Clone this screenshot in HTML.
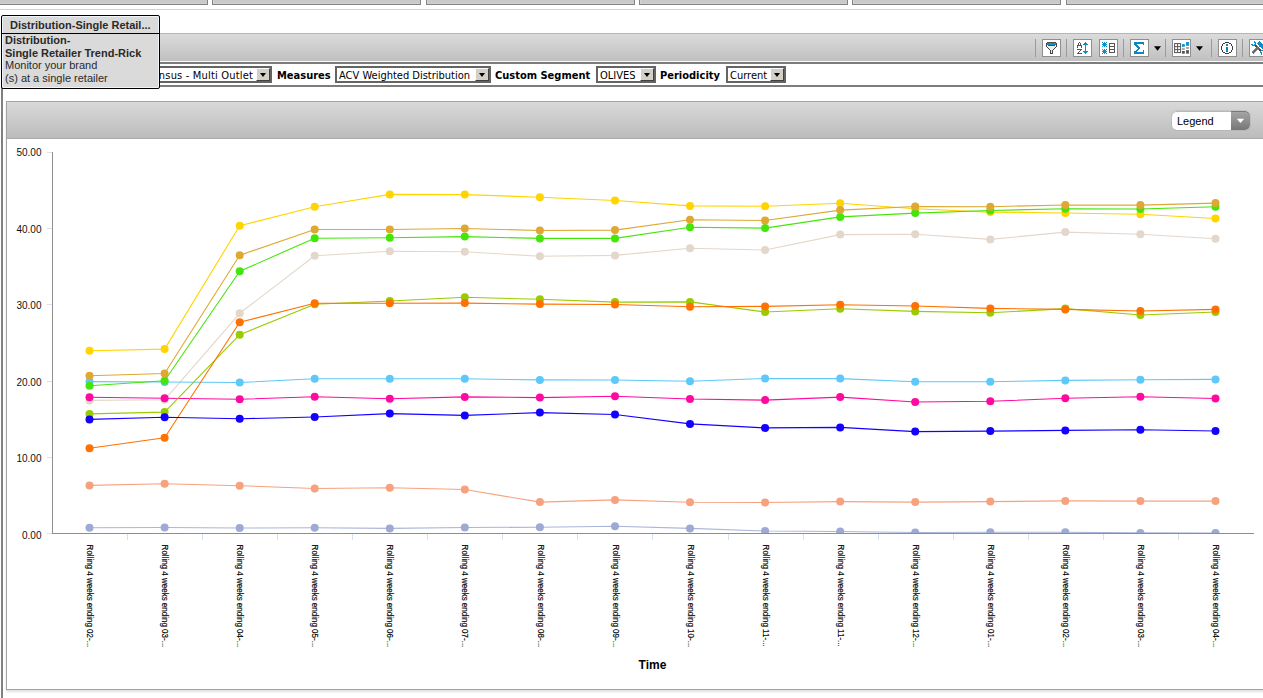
<!DOCTYPE html>
<html><head><meta charset="utf-8"><title>Distribution-Single Retailer Trend</title>
<style>
*{box-sizing:border-box}
html,body{margin:0;padding:0}
body{width:1263px;height:698px;overflow:hidden;background:#fff;position:relative;font-family:"Liberation Sans",Arial,sans-serif;color:#000}
.abs{position:absolute}
.tab{position:absolute;top:-6px;height:11px;border:1px solid #838383;background:#c9c9c9;box-shadow:inset 1px 0 0 #d4d4d4,inset 0 -1px 0 #d0d0d0}
.hline{position:absolute;left:0;top:9px;width:1263px;height:1px;background:#d2d2d2}
.frame{position:absolute;left:1px;top:33px;width:2px;height:680px;background:#808080}
.toolbar{position:absolute;left:3px;top:33px;width:1270px;height:28px;border-top:1px solid #b5b5b5;background:linear-gradient(#dbdbdb,#c0c0c0)}
.tb-white{position:absolute;left:3px;top:61px;width:1270px;height:1px;background:#fafafa}
.filter{position:absolute;left:3px;top:62px;width:1270px;height:25px;border-top:2px solid #7c7c7c;border-bottom:2px solid #7c7c7c;background:#fff;font-family:"DejaVu Sans Condensed","DejaVu Sans",sans-serif;font-size:11px}
.sep{position:absolute;top:39px;width:1px;height:18px;background:#9a9a9a}
.btn{position:absolute;top:39px;width:19px;height:18px;border:1px solid #8f8f8f;background:#fff}
.btn svg{position:absolute;left:-1px;top:-1px}
.dd{position:absolute;top:46px}
.sel{position:absolute;top:66px;height:17px;border:2px solid #646464;background:#fff;font-family:"DejaVu Sans Condensed","DejaVu Sans",sans-serif;font-size:11px;line-height:13px;color:#000;white-space:nowrap;overflow:hidden}
.sel .t{position:absolute;left:2px;top:1px}
.sel .b{position:absolute;right:0;top:0;width:14px;height:13px;background:#d4d0c8;border:1px solid;border-color:#fafafa #404040 #404040 #fafafa}
.sel .b:after{content:"";position:absolute;left:2.5px;top:4px;border-left:3.5px solid transparent;border-right:3.5px solid transparent;border-top:4px solid #000}
.lbl{position:absolute;top:69px;font-family:"DejaVu Sans Condensed","DejaVu Sans",sans-serif;font-size:11px;font-weight:bold;line-height:13px;color:#000;white-space:nowrap}
.panel{position:absolute;left:6px;top:101px;width:1270px;height:589px;border:1px solid #a3a3a3;background:#fff;box-shadow:0 2px 2px rgba(0,0,0,0.12)}
.phead{position:absolute;left:7px;top:102px;width:1270px;height:37px;background:linear-gradient(#d9d9d9,#bcbcbc);border-bottom:1px solid #a9a9a9}
.legend{position:absolute;left:1172px;top:111px;width:78px;height:19px;border-radius:5px;background:#fff;overflow:hidden;box-shadow:0 0 0 1px rgba(0,0,0,0.06)}
.legend .t{position:absolute;left:5px;top:3.5px;font-size:11px;line-height:13px;color:#000}
.legend .b{position:absolute;right:0;top:0;width:19px;height:19px;background:linear-gradient(#a8a8a8,#767676)}
.legend:after{content:"";position:absolute;left:0;top:0;right:0;bottom:0;border-radius:5px;box-shadow:inset 0 1px 0 rgba(0,0,0,0.28)}
.tip{position:absolute;left:1px;top:15px;width:159px;height:74px;border:1px solid #000;border-radius:2px;background:#dadada;color:#2a2a2a;font-size:11px;line-height:13px;box-shadow:inset 0 0 0 1px #eef4f8}
.tip .h{position:absolute;left:0;top:0;width:157px;height:18px;border-bottom:1px solid #000;font-weight:bold;text-align:left;padding-left:8px;line-height:18px;padding-top:0}
.tip .c{position:absolute;left:3px;top:18px;white-space:nowrap;line-height:12.65px}
.chart{position:absolute;left:0;top:0}
.yl{font-family:"Liberation Sans",Arial,sans-serif;font-size:10px;fill:#111}
.xl{font-family:"Liberation Sans",Arial,sans-serif;font-size:8.5px;fill:#000;stroke:#000;stroke-width:0.15px}
.xt{font-family:"Liberation Sans",Arial,sans-serif;font-size:12px;font-weight:bold;fill:#000}
</style></head>
<body>
<div class="tab" style="left:-10px;width:218px"></div>
<div class="tab" style="left:212px;width:209px"></div>
<div class="tab" style="left:426px;width:209px"></div>
<div class="tab" style="left:639px;width:209px"></div>
<div class="tab" style="left:852px;width:209px"></div>
<div class="tab" style="left:1066px;width:209px"></div>
<div class="hline"></div>

<div class="toolbar"></div>
<div class="tb-white"></div>
<div class="filter"></div>
<div class="frame"></div>

<!-- toolbar buttons -->
<div class="sep" style="left:1035px"></div>
<div class="btn" style="left:1042px"><svg width="19" height="18" viewBox="0 0 19 18" shape-rendering="crispEdges"><g fill="#eeeeee"><rect x="5" y="6" width="1" height="1"/><rect x="13" y="6" width="1" height="1"/><rect x="5" y="7" width="1" height="1"/><rect x="6" y="7" width="1" height="1"/><rect x="7" y="7" width="1" height="1"/><rect x="8" y="7" width="1" height="1"/><rect x="9" y="7" width="1" height="1"/><rect x="10" y="7" width="1" height="1"/><rect x="11" y="7" width="1" height="1"/><rect x="12" y="7" width="1" height="1"/><rect x="13" y="7" width="1" height="1"/><rect x="6" y="8" width="1" height="1"/><rect x="7" y="8" width="1" height="1"/><rect x="8" y="8" width="1" height="1"/><rect x="9" y="8" width="1" height="1"/><rect x="10" y="8" width="1" height="1"/><rect x="11" y="8" width="1" height="1"/><rect x="12" y="8" width="1" height="1"/><rect x="7" y="9" width="1" height="1"/><rect x="8" y="9" width="1" height="1"/><rect x="9" y="9" width="1" height="1"/><rect x="10" y="9" width="1" height="1"/><rect x="11" y="9" width="1" height="1"/><rect x="8" y="10" width="1" height="1"/><rect x="9" y="10" width="1" height="1"/><rect x="10" y="10" width="1" height="1"/><rect x="9" y="11" width="1" height="1"/><rect x="9" y="12" width="1" height="1"/><rect x="9" y="13" width="1" height="1"/></g><g fill="#0894c6"><rect x="5" y="4" width="1" height="1"/><rect x="6" y="4" width="1" height="1"/><rect x="7" y="4" width="1" height="1"/><rect x="8" y="4" width="1" height="1"/><rect x="9" y="4" width="1" height="1"/><rect x="10" y="4" width="1" height="1"/><rect x="11" y="4" width="1" height="1"/><rect x="12" y="4" width="1" height="1"/><rect x="13" y="4" width="1" height="1"/><rect x="5" y="5" width="1" height="1"/><rect x="6" y="5" width="1" height="1"/><rect x="7" y="5" width="1" height="1"/><rect x="8" y="5" width="1" height="1"/><rect x="9" y="5" width="1" height="1"/><rect x="10" y="5" width="1" height="1"/><rect x="11" y="5" width="1" height="1"/><rect x="12" y="5" width="1" height="1"/><rect x="13" y="5" width="1" height="1"/></g><g fill="#5a4c46"><rect x="5" y="3" width="1" height="1"/><rect x="6" y="3" width="1" height="1"/><rect x="7" y="3" width="1" height="1"/><rect x="8" y="3" width="1" height="1"/><rect x="9" y="3" width="1" height="1"/><rect x="10" y="3" width="1" height="1"/><rect x="11" y="3" width="1" height="1"/><rect x="12" y="3" width="1" height="1"/><rect x="13" y="3" width="1" height="1"/><rect x="6" y="6" width="1" height="1"/><rect x="7" y="6" width="1" height="1"/><rect x="8" y="6" width="1" height="1"/><rect x="9" y="6" width="1" height="1"/><rect x="10" y="6" width="1" height="1"/><rect x="11" y="6" width="1" height="1"/><rect x="12" y="6" width="1" height="1"/></g><g fill="#454545"><rect x="4" y="4" width="1" height="1"/><rect x="4" y="5" width="1" height="1"/><rect x="4" y="6" width="1" height="1"/><rect x="4" y="7" width="1" height="1"/><rect x="14" y="4" width="1" height="1"/><rect x="14" y="5" width="1" height="1"/><rect x="14" y="6" width="1" height="1"/><rect x="14" y="7" width="1" height="1"/><rect x="5" y="8" width="1" height="1"/><rect x="13" y="8" width="1" height="1"/><rect x="6" y="9" width="1" height="1"/><rect x="12" y="9" width="1" height="1"/><rect x="7" y="10" width="1" height="1"/><rect x="11" y="10" width="1" height="1"/><rect x="8" y="11" width="1" height="1"/><rect x="8" y="12" width="1" height="1"/><rect x="8" y="13" width="1" height="1"/><rect x="10" y="11" width="1" height="1"/><rect x="10" y="12" width="1" height="1"/><rect x="10" y="13" width="1" height="1"/><rect x="8" y="14" width="1" height="1"/><rect x="9" y="14" width="1" height="1"/><rect x="10" y="14" width="1" height="1"/></g></svg></div>
<div class="sep" style="left:1066px"></div>
<div class="btn" style="left:1073px"><svg width="19" height="18" viewBox="0 0 19 18" shape-rendering="crispEdges"><g fill="#555"><rect x="6" y="3" width="1" height="1"/><rect x="5" y="4" width="1" height="1"/><rect x="7" y="4" width="1" height="1"/><rect x="5" y="5" width="1" height="1"/><rect x="7" y="5" width="1" height="1"/><rect x="4" y="6" width="1" height="1"/><rect x="5" y="6" width="1" height="1"/><rect x="6" y="6" width="1" height="1"/><rect x="7" y="6" width="1" height="1"/><rect x="8" y="6" width="1" height="1"/><rect x="4" y="7" width="1" height="1"/><rect x="8" y="7" width="1" height="1"/><rect x="4" y="8" width="1" height="1"/><rect x="8" y="8" width="1" height="1"/><rect x="4" y="10" width="1" height="1"/><rect x="5" y="10" width="1" height="1"/><rect x="6" y="10" width="1" height="1"/><rect x="7" y="10" width="1" height="1"/><rect x="8" y="10" width="1" height="1"/><rect x="7" y="11" width="1" height="1"/><rect x="6" y="12" width="1" height="1"/><rect x="5" y="13" width="1" height="1"/><rect x="4" y="14" width="1" height="1"/><rect x="5" y="14" width="1" height="1"/><rect x="6" y="14" width="1" height="1"/><rect x="7" y="14" width="1" height="1"/><rect x="8" y="14" width="1" height="1"/></g><g fill="#0a8fc8"><rect x="12" y="3" width="1" height="1"/><rect x="11" y="4" width="1" height="1"/><rect x="12" y="4" width="1" height="1"/><rect x="13" y="4" width="1" height="1"/><rect x="10" y="5" width="1" height="1"/><rect x="11" y="5" width="1" height="1"/><rect x="12" y="5" width="1" height="1"/><rect x="13" y="5" width="1" height="1"/><rect x="14" y="5" width="1" height="1"/><rect x="12" y="6" width="1" height="1"/><rect x="12" y="7" width="1" height="1"/><rect x="12" y="8" width="1" height="1"/><rect x="12" y="9" width="1" height="1"/><rect x="12" y="10" width="1" height="1"/><rect x="12" y="11" width="1" height="1"/><rect x="10" y="12" width="1" height="1"/><rect x="11" y="12" width="1" height="1"/><rect x="12" y="12" width="1" height="1"/><rect x="13" y="12" width="1" height="1"/><rect x="14" y="12" width="1" height="1"/><rect x="11" y="13" width="1" height="1"/><rect x="12" y="13" width="1" height="1"/><rect x="13" y="13" width="1" height="1"/><rect x="12" y="14" width="1" height="1"/></g></svg></div>
<div class="btn" style="left:1099px"><svg width="19" height="18" viewBox="0 0 19 18" shape-rendering="crispEdges"><g fill="#0a8fc8"><rect x="3" y="3" width="1" height="1"/><rect x="5" y="3" width="1" height="1"/><rect x="7" y="3" width="1" height="1"/><rect x="4" y="4" width="1" height="1"/><rect x="5" y="4" width="1" height="1"/><rect x="6" y="4" width="1" height="1"/><rect x="3" y="5" width="1" height="1"/><rect x="4" y="5" width="1" height="1"/><rect x="5" y="5" width="1" height="1"/><rect x="6" y="5" width="1" height="1"/><rect x="7" y="5" width="1" height="1"/><rect x="4" y="6" width="1" height="1"/><rect x="5" y="6" width="1" height="1"/><rect x="6" y="6" width="1" height="1"/><rect x="3" y="7" width="1" height="1"/><rect x="5" y="7" width="1" height="1"/><rect x="7" y="7" width="1" height="1"/><rect x="3" y="10" width="1" height="1"/><rect x="5" y="10" width="1" height="1"/><rect x="7" y="10" width="1" height="1"/><rect x="4" y="11" width="1" height="1"/><rect x="5" y="11" width="1" height="1"/><rect x="6" y="11" width="1" height="1"/><rect x="3" y="12" width="1" height="1"/><rect x="4" y="12" width="1" height="1"/><rect x="5" y="12" width="1" height="1"/><rect x="6" y="12" width="1" height="1"/><rect x="7" y="12" width="1" height="1"/><rect x="4" y="13" width="1" height="1"/><rect x="5" y="13" width="1" height="1"/><rect x="6" y="13" width="1" height="1"/><rect x="3" y="14" width="1" height="1"/><rect x="5" y="14" width="1" height="1"/><rect x="7" y="14" width="1" height="1"/></g><rect x="10.5" y="4.5" width="5" height="9" fill="#fff" stroke="#555" stroke-width="1"/><path d="M10.5 7.5 H15.5 M10.5 10.5 H15.5" stroke="#555" stroke-width="1"/></svg></div>
<div class="sep" style="left:1123px"></div>
<div class="btn" style="left:1130px"><svg width="19" height="18" viewBox="0 0 19 18" shape-rendering="crispEdges"><g fill="#0a86c0"><rect x="4" y="3" width="1" height="1"/><rect x="5" y="3" width="1" height="1"/><rect x="6" y="3" width="1" height="1"/><rect x="7" y="3" width="1" height="1"/><rect x="8" y="3" width="1" height="1"/><rect x="9" y="3" width="1" height="1"/><rect x="10" y="3" width="1" height="1"/><rect x="11" y="3" width="1" height="1"/><rect x="12" y="3" width="1" height="1"/><rect x="13" y="3" width="1" height="1"/><rect x="4" y="4" width="1" height="1"/><rect x="5" y="4" width="1" height="1"/><rect x="6" y="4" width="1" height="1"/><rect x="7" y="4" width="1" height="1"/><rect x="8" y="4" width="1" height="1"/><rect x="9" y="4" width="1" height="1"/><rect x="10" y="4" width="1" height="1"/><rect x="11" y="4" width="1" height="1"/><rect x="12" y="4" width="1" height="1"/><rect x="13" y="4" width="1" height="1"/><rect x="4" y="13" width="1" height="1"/><rect x="5" y="13" width="1" height="1"/><rect x="6" y="13" width="1" height="1"/><rect x="7" y="13" width="1" height="1"/><rect x="8" y="13" width="1" height="1"/><rect x="9" y="13" width="1" height="1"/><rect x="10" y="13" width="1" height="1"/><rect x="11" y="13" width="1" height="1"/><rect x="12" y="13" width="1" height="1"/><rect x="13" y="13" width="1" height="1"/><rect x="4" y="14" width="1" height="1"/><rect x="5" y="14" width="1" height="1"/><rect x="6" y="14" width="1" height="1"/><rect x="7" y="14" width="1" height="1"/><rect x="8" y="14" width="1" height="1"/><rect x="9" y="14" width="1" height="1"/><rect x="10" y="14" width="1" height="1"/><rect x="11" y="14" width="1" height="1"/><rect x="12" y="14" width="1" height="1"/><rect x="13" y="14" width="1" height="1"/><rect x="13" y="5" width="1" height="1"/><rect x="13" y="11" width="1" height="1"/><rect x="13" y="12" width="1" height="1"/><rect x="4" y="5" width="1" height="1"/><rect x="5" y="5" width="1" height="1"/><rect x="6" y="5" width="1" height="1"/><rect x="5" y="6" width="1" height="1"/><rect x="6" y="6" width="1" height="1"/><rect x="7" y="6" width="1" height="1"/><rect x="6" y="7" width="1" height="1"/><rect x="7" y="7" width="1" height="1"/><rect x="8" y="7" width="1" height="1"/><rect x="7" y="8" width="1" height="1"/><rect x="8" y="8" width="1" height="1"/><rect x="9" y="8" width="1" height="1"/><rect x="8" y="9" width="1" height="1"/><rect x="9" y="9" width="1" height="1"/><rect x="7" y="10" width="1" height="1"/><rect x="8" y="10" width="1" height="1"/><rect x="6" y="11" width="1" height="1"/><rect x="7" y="11" width="1" height="1"/><rect x="5" y="12" width="1" height="1"/><rect x="6" y="12" width="1" height="1"/><rect x="4" y="12" width="1" height="1"/></g></svg></div>
<svg class="dd" style="left:1153px" width="9" height="6" viewBox="0 0 9 6"><path d="M1 0.2 H8 L4.5 4.8 Z" fill="#000"/></svg>
<div class="sep" style="left:1165px"></div>
<div class="btn" style="left:1172px"><svg width="19" height="18" viewBox="0 0 19 18">
<rect x="2.6" y="4.6" width="6" height="9" fill="#fff" stroke="#555" stroke-width="1"/>
<path d="M5.6 4.6 V13.6 M2.6 7.6 H8.6 M2.6 10.6 H8.6" stroke="#555" stroke-width="1"/>
<rect x="10" y="5.1" width="2.8" height="2.7" fill="#0a8fc8"/><rect x="14.1" y="3" width="2.8" height="3.8" fill="#0a8fc8"/>
<rect x="10" y="9.2" width="2.8" height="1.6" fill="#9a9a9a"/><rect x="14.1" y="8.1" width="2.8" height="1.7" fill="#9a9a9a"/>
<rect x="10" y="12" width="2.8" height="2.7" fill="#555"/><rect x="14.1" y="11.1" width="2.8" height="3.6" fill="#555"/>
</svg></div>
<svg class="dd" style="left:1195px" width="9" height="6" viewBox="0 0 9 6"><path d="M1 0.2 H8 L4.5 4.8 Z" fill="#000"/></svg>
<div class="sep" style="left:1211px"></div>
<div class="btn" style="left:1218px"><svg width="19" height="18" viewBox="0 0 19 18" shape-rendering="crispEdges"><g fill="#3c3c3c"><rect x="7" y="3" width="1" height="1"/><rect x="8" y="3" width="1" height="1"/><rect x="9" y="3" width="1" height="1"/><rect x="10" y="3" width="1" height="1"/><rect x="5" y="4" width="1" height="1"/><rect x="6" y="4" width="1" height="1"/><rect x="11" y="4" width="1" height="1"/><rect x="12" y="4" width="1" height="1"/><rect x="4" y="5" width="1" height="1"/><rect x="4" y="6" width="1" height="1"/><rect x="13" y="5" width="1" height="1"/><rect x="13" y="6" width="1" height="1"/><rect x="3" y="7" width="1" height="1"/><rect x="3" y="8" width="1" height="1"/><rect x="3" y="9" width="1" height="1"/><rect x="3" y="10" width="1" height="1"/><rect x="14" y="7" width="1" height="1"/><rect x="14" y="8" width="1" height="1"/><rect x="14" y="9" width="1" height="1"/><rect x="14" y="10" width="1" height="1"/><rect x="4" y="11" width="1" height="1"/><rect x="4" y="12" width="1" height="1"/><rect x="13" y="11" width="1" height="1"/><rect x="13" y="12" width="1" height="1"/><rect x="5" y="13" width="1" height="1"/><rect x="6" y="13" width="1" height="1"/><rect x="11" y="13" width="1" height="1"/><rect x="12" y="13" width="1" height="1"/><rect x="7" y="14" width="1" height="1"/><rect x="8" y="14" width="1" height="1"/><rect x="9" y="14" width="1" height="1"/><rect x="10" y="14" width="1" height="1"/></g><g fill="#0a86c0"><rect x="8" y="5" width="1" height="1"/><rect x="9" y="5" width="1" height="1"/><rect x="8" y="6" width="1" height="1"/><rect x="9" y="6" width="1" height="1"/><rect x="8" y="8" width="1" height="1"/><rect x="8" y="9" width="1" height="1"/><rect x="8" y="10" width="1" height="1"/><rect x="8" y="11" width="1" height="1"/><rect x="8" y="12" width="1" height="1"/><rect x="9" y="8" width="1" height="1"/><rect x="9" y="9" width="1" height="1"/><rect x="9" y="10" width="1" height="1"/><rect x="9" y="11" width="1" height="1"/><rect x="9" y="12" width="1" height="1"/></g></svg></div>
<div class="sep" style="left:1242px"></div>
<div class="btn" style="left:1249px"><svg width="19" height="18" viewBox="0 0 19 18" shape-rendering="crispEdges"><g fill="#0a8fc8"><rect x="5" y="2" width="1" height="1"/><rect x="5" y="3" width="1" height="1"/><rect x="6" y="3" width="1" height="1"/><rect x="6" y="4" width="1" height="1"/><rect x="2" y="5" width="1" height="1"/><rect x="3" y="5" width="1" height="1"/><rect x="5" y="5" width="1" height="1"/><rect x="6" y="5" width="1" height="1"/><rect x="3" y="6" width="1" height="1"/><rect x="4" y="6" width="1" height="1"/><rect x="5" y="6" width="1" height="1"/><rect x="10" y="2" width="1" height="1"/><rect x="9" y="3" width="1" height="1"/><rect x="10" y="3" width="1" height="1"/><rect x="11" y="3" width="1" height="1"/><rect x="8" y="4" width="1" height="1"/><rect x="9" y="4" width="1" height="1"/><rect x="10" y="4" width="1" height="1"/><rect x="11" y="4" width="1" height="1"/><rect x="12" y="4" width="1" height="1"/><rect x="9" y="5" width="1" height="1"/><rect x="10" y="5" width="1" height="1"/><rect x="11" y="5" width="1" height="1"/><rect x="12" y="5" width="1" height="1"/><rect x="13" y="5" width="1" height="1"/><rect x="10" y="6" width="1" height="1"/><rect x="11" y="6" width="1" height="1"/><rect x="12" y="6" width="1" height="1"/><rect x="13" y="6" width="1" height="1"/><rect x="10" y="7" width="1" height="1"/><rect x="11" y="7" width="1" height="1"/><rect x="12" y="7" width="1" height="1"/><rect x="13" y="7" width="1" height="1"/><rect x="12" y="8" width="1" height="1"/><rect x="13" y="8" width="1" height="1"/><rect x="13" y="9" width="1" height="1"/><rect x="11" y="11" width="1" height="1"/><rect x="12" y="11" width="1" height="1"/><rect x="13" y="11" width="1" height="1"/><rect x="11" y="12" width="1" height="1"/><rect x="11" y="13" width="1" height="1"/><rect x="12" y="13" width="1" height="1"/><rect x="12" y="14" width="1" height="1"/><rect x="12" y="15" width="1" height="1"/></g><g fill="#6a6a6a"><rect x="8" y="7" width="1" height="1"/><rect x="7" y="8" width="1" height="1"/><rect x="8" y="8" width="1" height="1"/><rect x="9" y="8" width="1" height="1"/><rect x="8" y="9" width="1" height="1"/><rect x="9" y="9" width="1" height="1"/><rect x="10" y="9" width="1" height="1"/><rect x="9" y="10" width="1" height="1"/><rect x="7" y="9" width="1" height="1"/><rect x="6" y="10" width="1" height="1"/><rect x="7" y="10" width="1" height="1"/><rect x="5" y="11" width="1" height="1"/><rect x="6" y="11" width="1" height="1"/><rect x="4" y="12" width="1" height="1"/><rect x="5" y="12" width="1" height="1"/><rect x="3" y="13" width="1" height="1"/><rect x="4" y="13" width="1" height="1"/><rect x="4" y="14" width="1" height="1"/></g><g fill="#8a8a8a"><rect x="8" y="10" width="1" height="1"/><rect x="7" y="11" width="1" height="1"/><rect x="6" y="12" width="1" height="1"/><rect x="5" y="13" width="1" height="1"/><rect x="6" y="9" width="1" height="1"/><rect x="5" y="10" width="1" height="1"/><rect x="4" y="11" width="1" height="1"/><rect x="3" y="12" width="1" height="1"/></g><g fill="#4e4a48"><rect x="6" y="6" width="1" height="1"/><rect x="7" y="6" width="1" height="1"/><rect x="6" y="7" width="1" height="1"/><rect x="7" y="7" width="1" height="1"/><rect x="10" y="10" width="1" height="1"/><rect x="11" y="10" width="1" height="1"/><rect x="10" y="11" width="1" height="1"/><rect x="11" y="11" width="1" height="1"/></g></svg></div>

<!-- filter row selects -->
<div class="sel" style="left:60px;width:212px"><span class="t" style="left:83.5px;letter-spacing:0.18px">Census - Multi Outlet</span><span class="b"></span></div>
<div class="lbl" style="left:277px">Measures</div>
<div class="sel" style="left:335px;width:156px"><span class="t">ACV Weighted Distribution</span><span class="b"></span></div>
<div class="lbl" style="left:495px">Custom Segment</div>
<div class="sel" style="left:596px;width:60px"><span class="t">OLIVES</span><span class="b"></span></div>
<div class="lbl" style="left:660px">Periodicity</div>
<div class="sel" style="left:726px;width:60px"><span class="t">Current</span><span class="b"></span></div>

<!-- chart panel -->
<div class="panel"></div>
<div class="phead"></div>
<div class="legend"><span class="t">Legend</span><span class="b"></span><svg class="abs" style="left:63.6px;top:7px" width="9" height="6" viewBox="0 0 9 6"><path d="M0.8 0.8 H8.2 L4.5 4.9 Z" fill="#fff"/></svg></div>

<svg class="chart" width="1263" height="698" viewBox="0 0 1263 698">
<defs><clipPath id="pc"><rect x="53" y="140" width="1210" height="393.5"/></clipPath></defs>
<line x1="47" y1="152.5" x2="52" y2="152.5" stroke="#d3e1f1" stroke-width="1"/>
<text x="41.5" y="155.6" text-anchor="end" class="yl">50.00</text>
<line x1="47" y1="228.5" x2="52" y2="228.5" stroke="#d3e1f1" stroke-width="1"/>
<text x="41.5" y="232.6" text-anchor="end" class="yl">40.00</text>
<line x1="47" y1="304.5" x2="52" y2="304.5" stroke="#d3e1f1" stroke-width="1"/>
<text x="41.5" y="308.6" text-anchor="end" class="yl">30.00</text>
<line x1="47" y1="381.5" x2="52" y2="381.5" stroke="#d3e1f1" stroke-width="1"/>
<text x="41.5" y="385.6" text-anchor="end" class="yl">20.00</text>
<line x1="47" y1="457.5" x2="52" y2="457.5" stroke="#d3e1f1" stroke-width="1"/>
<text x="41.5" y="461.6" text-anchor="end" class="yl">10.00</text>
<line x1="47" y1="533.5" x2="52" y2="533.5" stroke="#d3e1f1" stroke-width="1"/>
<text x="41.5" y="538.6" text-anchor="end" class="yl">0.00</text>
<line x1="127.5" y1="534" x2="127.5" y2="540" stroke="#d3e1f1" stroke-width="1"/>
<line x1="202.5" y1="534" x2="202.5" y2="540" stroke="#d3e1f1" stroke-width="1"/>
<line x1="277.5" y1="534" x2="277.5" y2="540" stroke="#d3e1f1" stroke-width="1"/>
<line x1="352.5" y1="534" x2="352.5" y2="540" stroke="#d3e1f1" stroke-width="1"/>
<line x1="427.5" y1="534" x2="427.5" y2="540" stroke="#d3e1f1" stroke-width="1"/>
<line x1="502.5" y1="534" x2="502.5" y2="540" stroke="#d3e1f1" stroke-width="1"/>
<line x1="577.5" y1="534" x2="577.5" y2="540" stroke="#d3e1f1" stroke-width="1"/>
<line x1="652.5" y1="534" x2="652.5" y2="540" stroke="#d3e1f1" stroke-width="1"/>
<line x1="728.5" y1="534" x2="728.5" y2="540" stroke="#d3e1f1" stroke-width="1"/>
<line x1="803.5" y1="534" x2="803.5" y2="540" stroke="#d3e1f1" stroke-width="1"/>
<line x1="878.5" y1="534" x2="878.5" y2="540" stroke="#d3e1f1" stroke-width="1"/>
<line x1="953.5" y1="534" x2="953.5" y2="540" stroke="#d3e1f1" stroke-width="1"/>
<line x1="1028.5" y1="534" x2="1028.5" y2="540" stroke="#d3e1f1" stroke-width="1"/>
<line x1="1103.5" y1="534" x2="1103.5" y2="540" stroke="#d3e1f1" stroke-width="1"/>
<line x1="1178.5" y1="534" x2="1178.5" y2="540" stroke="#d3e1f1" stroke-width="1"/>
<g clip-path="url(#pc)">
<polyline points="89.5,527.7 164.6,527.5 239.7,528.0 314.7,527.7 389.8,528.4 464.8,527.5 539.9,527.2 615.0,526.3 690.0,528.4 765.1,531.0 840.2,531.5 915.2,532.5 990.3,532.2 1065.3,532.2 1140.4,532.9 1215.5,533.0" fill="none" stroke="#aab5db" stroke-width="1.1" stroke-linejoin="round"/>
<circle cx="89.5" cy="527.7" r="4" fill="#9eaad3"/>
<circle cx="164.6" cy="527.5" r="4" fill="#9eaad3"/>
<circle cx="239.7" cy="528.0" r="4" fill="#9eaad3"/>
<circle cx="314.7" cy="527.7" r="4" fill="#9eaad3"/>
<circle cx="389.8" cy="528.4" r="4" fill="#9eaad3"/>
<circle cx="464.8" cy="527.5" r="4" fill="#9eaad3"/>
<circle cx="539.9" cy="527.2" r="4" fill="#9eaad3"/>
<circle cx="615.0" cy="526.3" r="4" fill="#9eaad3"/>
<circle cx="690.0" cy="528.4" r="4" fill="#9eaad3"/>
<circle cx="765.1" cy="531.0" r="4" fill="#9eaad3"/>
<circle cx="840.2" cy="531.5" r="4" fill="#9eaad3"/>
<circle cx="915.2" cy="532.5" r="4" fill="#9eaad3"/>
<circle cx="990.3" cy="532.2" r="4" fill="#9eaad3"/>
<circle cx="1065.3" cy="532.2" r="4" fill="#9eaad3"/>
<circle cx="1140.4" cy="532.9" r="4" fill="#9eaad3"/>
<circle cx="1215.5" cy="533.0" r="4" fill="#9eaad3"/>
<polyline points="89.5,485.4 164.6,483.8 239.7,485.7 314.7,488.5 389.8,487.8 464.8,489.5 539.9,502.1 615.0,499.9 690.0,502.3 765.1,502.5 840.2,501.6 915.2,502.1 990.3,501.6 1065.3,500.9 1140.4,501.1 1215.5,501.1" fill="none" stroke="#f7a27f" stroke-width="1.1" stroke-linejoin="round"/>
<circle cx="89.5" cy="485.4" r="4" fill="#f7a27f"/>
<circle cx="164.6" cy="483.8" r="4" fill="#f7a27f"/>
<circle cx="239.7" cy="485.7" r="4" fill="#f7a27f"/>
<circle cx="314.7" cy="488.5" r="4" fill="#f7a27f"/>
<circle cx="389.8" cy="487.8" r="4" fill="#f7a27f"/>
<circle cx="464.8" cy="489.5" r="4" fill="#f7a27f"/>
<circle cx="539.9" cy="502.1" r="4" fill="#f7a27f"/>
<circle cx="615.0" cy="499.9" r="4" fill="#f7a27f"/>
<circle cx="690.0" cy="502.3" r="4" fill="#f7a27f"/>
<circle cx="765.1" cy="502.5" r="4" fill="#f7a27f"/>
<circle cx="840.2" cy="501.6" r="4" fill="#f7a27f"/>
<circle cx="915.2" cy="502.1" r="4" fill="#f7a27f"/>
<circle cx="990.3" cy="501.6" r="4" fill="#f7a27f"/>
<circle cx="1065.3" cy="500.9" r="4" fill="#f7a27f"/>
<circle cx="1140.4" cy="501.1" r="4" fill="#f7a27f"/>
<circle cx="1215.5" cy="501.1" r="4" fill="#f7a27f"/>
<polyline points="89.5,400.4 164.6,399.8 239.7,313.3 314.7,255.8 389.8,251.2 464.8,251.8 539.9,256.2 615.0,255.4 690.0,248.2 765.1,250.0 840.2,234.6 915.2,234.2 990.3,239.4 1065.3,232.1 1140.4,234.2 1215.5,238.8" fill="none" stroke="#e3d7cb" stroke-width="1.1" stroke-linejoin="round"/>
<circle cx="89.5" cy="400.4" r="4" fill="#e3d7cb"/>
<circle cx="164.6" cy="399.8" r="4" fill="#e3d7cb"/>
<circle cx="239.7" cy="313.3" r="4" fill="#e3d7cb"/>
<circle cx="314.7" cy="255.8" r="4" fill="#e3d7cb"/>
<circle cx="389.8" cy="251.2" r="4" fill="#e3d7cb"/>
<circle cx="464.8" cy="251.8" r="4" fill="#e3d7cb"/>
<circle cx="539.9" cy="256.2" r="4" fill="#e3d7cb"/>
<circle cx="615.0" cy="255.4" r="4" fill="#e3d7cb"/>
<circle cx="690.0" cy="248.2" r="4" fill="#e3d7cb"/>
<circle cx="765.1" cy="250.0" r="4" fill="#e3d7cb"/>
<circle cx="840.2" cy="234.6" r="4" fill="#e3d7cb"/>
<circle cx="915.2" cy="234.2" r="4" fill="#e3d7cb"/>
<circle cx="990.3" cy="239.4" r="4" fill="#e3d7cb"/>
<circle cx="1065.3" cy="232.1" r="4" fill="#e3d7cb"/>
<circle cx="1140.4" cy="234.2" r="4" fill="#e3d7cb"/>
<circle cx="1215.5" cy="238.8" r="4" fill="#e3d7cb"/>
<polyline points="89.5,397.3 164.6,398.3 239.7,399.2 314.7,396.8 389.8,398.7 464.8,396.9 539.9,397.6 615.0,396.2 690.0,399.0 765.1,400.1 840.2,397.1 915.2,402.0 990.3,401.3 1065.3,398.3 1140.4,396.8 1215.5,398.5" fill="none" stroke="#ff0aa0" stroke-width="1.1" stroke-linejoin="round"/>
<circle cx="89.5" cy="397.3" r="4" fill="#ff0aa0"/>
<circle cx="164.6" cy="398.3" r="4" fill="#ff0aa0"/>
<circle cx="239.7" cy="399.2" r="4" fill="#ff0aa0"/>
<circle cx="314.7" cy="396.8" r="4" fill="#ff0aa0"/>
<circle cx="389.8" cy="398.7" r="4" fill="#ff0aa0"/>
<circle cx="464.8" cy="396.9" r="4" fill="#ff0aa0"/>
<circle cx="539.9" cy="397.6" r="4" fill="#ff0aa0"/>
<circle cx="615.0" cy="396.2" r="4" fill="#ff0aa0"/>
<circle cx="690.0" cy="399.0" r="4" fill="#ff0aa0"/>
<circle cx="765.1" cy="400.1" r="4" fill="#ff0aa0"/>
<circle cx="840.2" cy="397.1" r="4" fill="#ff0aa0"/>
<circle cx="915.2" cy="402.0" r="4" fill="#ff0aa0"/>
<circle cx="990.3" cy="401.3" r="4" fill="#ff0aa0"/>
<circle cx="1065.3" cy="398.3" r="4" fill="#ff0aa0"/>
<circle cx="1140.4" cy="396.8" r="4" fill="#ff0aa0"/>
<circle cx="1215.5" cy="398.5" r="4" fill="#ff0aa0"/>
<polyline points="89.5,381.6 164.6,382.0 239.7,382.5 314.7,378.8 389.8,378.8 464.8,378.8 539.9,379.9 615.0,380.0 690.0,381.3 765.1,378.5 840.2,378.6 915.2,381.8 990.3,381.8 1065.3,380.4 1140.4,379.7 1215.5,379.4" fill="none" stroke="#5ec8f8" stroke-width="1.1" stroke-linejoin="round"/>
<circle cx="89.5" cy="381.6" r="4" fill="#5ec8f8"/>
<circle cx="164.6" cy="382.0" r="4" fill="#5ec8f8"/>
<circle cx="239.7" cy="382.5" r="4" fill="#5ec8f8"/>
<circle cx="314.7" cy="378.8" r="4" fill="#5ec8f8"/>
<circle cx="389.8" cy="378.8" r="4" fill="#5ec8f8"/>
<circle cx="464.8" cy="378.8" r="4" fill="#5ec8f8"/>
<circle cx="539.9" cy="379.9" r="4" fill="#5ec8f8"/>
<circle cx="615.0" cy="380.0" r="4" fill="#5ec8f8"/>
<circle cx="690.0" cy="381.3" r="4" fill="#5ec8f8"/>
<circle cx="765.1" cy="378.5" r="4" fill="#5ec8f8"/>
<circle cx="840.2" cy="378.6" r="4" fill="#5ec8f8"/>
<circle cx="915.2" cy="381.8" r="4" fill="#5ec8f8"/>
<circle cx="990.3" cy="381.8" r="4" fill="#5ec8f8"/>
<circle cx="1065.3" cy="380.4" r="4" fill="#5ec8f8"/>
<circle cx="1140.4" cy="379.7" r="4" fill="#5ec8f8"/>
<circle cx="1215.5" cy="379.4" r="4" fill="#5ec8f8"/>
<polyline points="89.5,350.7 164.6,349.1 239.7,225.7 314.7,206.7 389.8,194.4 464.8,194.6 539.9,197.2 615.0,200.5 690.0,205.9 765.1,206.3 840.2,203.3 915.2,208.7 990.3,212.1 1065.3,213.0 1140.4,214.3 1215.5,218.5" fill="none" stroke="#ffd400" stroke-width="1.1" stroke-linejoin="round"/>
<circle cx="89.5" cy="350.7" r="4" fill="#ffd400"/>
<circle cx="164.6" cy="349.1" r="4" fill="#ffd400"/>
<circle cx="239.7" cy="225.7" r="4" fill="#ffd400"/>
<circle cx="314.7" cy="206.7" r="4" fill="#ffd400"/>
<circle cx="389.8" cy="194.4" r="4" fill="#ffd400"/>
<circle cx="464.8" cy="194.6" r="4" fill="#ffd400"/>
<circle cx="539.9" cy="197.2" r="4" fill="#ffd400"/>
<circle cx="615.0" cy="200.5" r="4" fill="#ffd400"/>
<circle cx="690.0" cy="205.9" r="4" fill="#ffd400"/>
<circle cx="765.1" cy="206.3" r="4" fill="#ffd400"/>
<circle cx="840.2" cy="203.3" r="4" fill="#ffd400"/>
<circle cx="915.2" cy="208.7" r="4" fill="#ffd400"/>
<circle cx="990.3" cy="212.1" r="4" fill="#ffd400"/>
<circle cx="1065.3" cy="213.0" r="4" fill="#ffd400"/>
<circle cx="1140.4" cy="214.3" r="4" fill="#ffd400"/>
<circle cx="1215.5" cy="218.5" r="4" fill="#ffd400"/>
<polyline points="89.5,385.7 164.6,380.7 239.7,271.3 314.7,238.2 389.8,237.8 464.8,236.6 539.9,238.4 615.0,238.4 690.0,227.3 765.1,228.1 840.2,216.9 915.2,213.1 990.3,210.5 1065.3,208.7 1140.4,209.0 1215.5,206.7" fill="none" stroke="#44e60a" stroke-width="1.1" stroke-linejoin="round"/>
<circle cx="89.5" cy="385.7" r="4" fill="#44e60a"/>
<circle cx="164.6" cy="380.7" r="4" fill="#44e60a"/>
<circle cx="239.7" cy="271.3" r="4" fill="#44e60a"/>
<circle cx="314.7" cy="238.2" r="4" fill="#44e60a"/>
<circle cx="389.8" cy="237.8" r="4" fill="#44e60a"/>
<circle cx="464.8" cy="236.6" r="4" fill="#44e60a"/>
<circle cx="539.9" cy="238.4" r="4" fill="#44e60a"/>
<circle cx="615.0" cy="238.4" r="4" fill="#44e60a"/>
<circle cx="690.0" cy="227.3" r="4" fill="#44e60a"/>
<circle cx="765.1" cy="228.1" r="4" fill="#44e60a"/>
<circle cx="840.2" cy="216.9" r="4" fill="#44e60a"/>
<circle cx="915.2" cy="213.1" r="4" fill="#44e60a"/>
<circle cx="990.3" cy="210.5" r="4" fill="#44e60a"/>
<circle cx="1065.3" cy="208.7" r="4" fill="#44e60a"/>
<circle cx="1140.4" cy="209.0" r="4" fill="#44e60a"/>
<circle cx="1215.5" cy="206.7" r="4" fill="#44e60a"/>
<polyline points="89.5,375.7 164.6,373.5 239.7,255.2 314.7,229.5 389.8,229.5 464.8,228.5 539.9,230.5 615.0,230.1 690.0,219.7 765.1,220.5 840.2,210.1 915.2,206.5 990.3,206.7 1065.3,205.0 1140.4,205.1 1215.5,203.1" fill="none" stroke="#dea832" stroke-width="1.1" stroke-linejoin="round"/>
<circle cx="89.5" cy="375.7" r="4" fill="#dea832"/>
<circle cx="164.6" cy="373.5" r="4" fill="#dea832"/>
<circle cx="239.7" cy="255.2" r="4" fill="#dea832"/>
<circle cx="314.7" cy="229.5" r="4" fill="#dea832"/>
<circle cx="389.8" cy="229.5" r="4" fill="#dea832"/>
<circle cx="464.8" cy="228.5" r="4" fill="#dea832"/>
<circle cx="539.9" cy="230.5" r="4" fill="#dea832"/>
<circle cx="615.0" cy="230.1" r="4" fill="#dea832"/>
<circle cx="690.0" cy="219.7" r="4" fill="#dea832"/>
<circle cx="765.1" cy="220.5" r="4" fill="#dea832"/>
<circle cx="840.2" cy="210.1" r="4" fill="#dea832"/>
<circle cx="915.2" cy="206.5" r="4" fill="#dea832"/>
<circle cx="990.3" cy="206.7" r="4" fill="#dea832"/>
<circle cx="1065.3" cy="205.0" r="4" fill="#dea832"/>
<circle cx="1140.4" cy="205.1" r="4" fill="#dea832"/>
<circle cx="1215.5" cy="203.1" r="4" fill="#dea832"/>
<polyline points="89.5,413.9 164.6,412.1 239.7,334.7 314.7,304.2 389.8,301.0 464.8,297.3 539.9,299.3 615.0,302.1 690.0,301.9 765.1,312.0 840.2,308.8 915.2,311.4 990.3,312.8 1065.3,308.6 1140.4,315.0 1215.5,312.0" fill="none" stroke="#99cc00" stroke-width="1.1" stroke-linejoin="round"/>
<circle cx="89.5" cy="413.9" r="4" fill="#99cc00"/>
<circle cx="164.6" cy="412.1" r="4" fill="#99cc00"/>
<circle cx="239.7" cy="334.7" r="4" fill="#99cc00"/>
<circle cx="314.7" cy="304.2" r="4" fill="#99cc00"/>
<circle cx="389.8" cy="301.0" r="4" fill="#99cc00"/>
<circle cx="464.8" cy="297.3" r="4" fill="#99cc00"/>
<circle cx="539.9" cy="299.3" r="4" fill="#99cc00"/>
<circle cx="615.0" cy="302.1" r="4" fill="#99cc00"/>
<circle cx="690.0" cy="301.9" r="4" fill="#99cc00"/>
<circle cx="765.1" cy="312.0" r="4" fill="#99cc00"/>
<circle cx="840.2" cy="308.8" r="4" fill="#99cc00"/>
<circle cx="915.2" cy="311.4" r="4" fill="#99cc00"/>
<circle cx="990.3" cy="312.8" r="4" fill="#99cc00"/>
<circle cx="1065.3" cy="308.6" r="4" fill="#99cc00"/>
<circle cx="1140.4" cy="315.0" r="4" fill="#99cc00"/>
<circle cx="1215.5" cy="312.0" r="4" fill="#99cc00"/>
<polyline points="89.5,448.3 164.6,437.7 239.7,322.3 314.7,303.3 389.8,303.3 464.8,303.1 539.9,304.1 615.0,304.5 690.0,306.8 765.1,306.4 840.2,304.7 915.2,306.0 990.3,308.4 1065.3,309.4 1140.4,311.0 1215.5,309.4" fill="none" stroke="#ff7100" stroke-width="1.1" stroke-linejoin="round"/>
<circle cx="89.5" cy="448.3" r="4" fill="#ff7100"/>
<circle cx="164.6" cy="437.7" r="4" fill="#ff7100"/>
<circle cx="239.7" cy="322.3" r="4" fill="#ff7100"/>
<circle cx="314.7" cy="303.3" r="4" fill="#ff7100"/>
<circle cx="389.8" cy="303.3" r="4" fill="#ff7100"/>
<circle cx="464.8" cy="303.1" r="4" fill="#ff7100"/>
<circle cx="539.9" cy="304.1" r="4" fill="#ff7100"/>
<circle cx="615.0" cy="304.5" r="4" fill="#ff7100"/>
<circle cx="690.0" cy="306.8" r="4" fill="#ff7100"/>
<circle cx="765.1" cy="306.4" r="4" fill="#ff7100"/>
<circle cx="840.2" cy="304.7" r="4" fill="#ff7100"/>
<circle cx="915.2" cy="306.0" r="4" fill="#ff7100"/>
<circle cx="990.3" cy="308.4" r="4" fill="#ff7100"/>
<circle cx="1065.3" cy="309.4" r="4" fill="#ff7100"/>
<circle cx="1140.4" cy="311.0" r="4" fill="#ff7100"/>
<circle cx="1215.5" cy="309.4" r="4" fill="#ff7100"/>
<polyline points="89.5,419.4 164.6,417.3 239.7,418.8 314.7,417.0 389.8,413.6 464.8,415.4 539.9,412.6 615.0,414.5 690.0,423.9 765.1,427.9 840.2,427.4 915.2,431.6 990.3,431.1 1065.3,430.4 1140.4,429.8 1215.5,431.0" fill="none" stroke="#1400ff" stroke-width="1.1" stroke-linejoin="round"/>
<circle cx="89.5" cy="419.4" r="4" fill="#1400ff"/>
<circle cx="164.6" cy="417.3" r="4" fill="#1400ff"/>
<circle cx="239.7" cy="418.8" r="4" fill="#1400ff"/>
<circle cx="314.7" cy="417.0" r="4" fill="#1400ff"/>
<circle cx="389.8" cy="413.6" r="4" fill="#1400ff"/>
<circle cx="464.8" cy="415.4" r="4" fill="#1400ff"/>
<circle cx="539.9" cy="412.6" r="4" fill="#1400ff"/>
<circle cx="615.0" cy="414.5" r="4" fill="#1400ff"/>
<circle cx="690.0" cy="423.9" r="4" fill="#1400ff"/>
<circle cx="765.1" cy="427.9" r="4" fill="#1400ff"/>
<circle cx="840.2" cy="427.4" r="4" fill="#1400ff"/>
<circle cx="915.2" cy="431.6" r="4" fill="#1400ff"/>
<circle cx="990.3" cy="431.1" r="4" fill="#1400ff"/>
<circle cx="1065.3" cy="430.4" r="4" fill="#1400ff"/>
<circle cx="1140.4" cy="429.8" r="4" fill="#1400ff"/>
<circle cx="1215.5" cy="431.0" r="4" fill="#1400ff"/>
</g>
<line x1="52.5" y1="152" x2="52.5" y2="534" stroke="#8e8e8e" stroke-width="1"/>
<line x1="52" y1="533.5" x2="1254" y2="533.5" stroke="#8e8e8e" stroke-width="1"/>
<text class="xl" transform="translate(87.1,544.6) rotate(90) scale(0.942,1)">Rolling 4 weeks ending 02-...</text>
<text class="xl" transform="translate(162.2,544.6) rotate(90) scale(0.942,1)">Rolling 4 weeks ending 03-...</text>
<text class="xl" transform="translate(237.3,544.6) rotate(90) scale(0.942,1)">Rolling 4 weeks ending 04-...</text>
<text class="xl" transform="translate(312.3,544.6) rotate(90) scale(0.942,1)">Rolling 4 weeks ending 05-...</text>
<text class="xl" transform="translate(387.4,544.6) rotate(90) scale(0.942,1)">Rolling 4 weeks ending 06-...</text>
<text class="xl" transform="translate(462.4,544.6) rotate(90) scale(0.942,1)">Rolling 4 weeks ending 07-...</text>
<text class="xl" transform="translate(537.5,544.6) rotate(90) scale(0.942,1)">Rolling 4 weeks ending 08-...</text>
<text class="xl" transform="translate(612.6,544.6) rotate(90) scale(0.942,1)">Rolling 4 weeks ending 09-...</text>
<text class="xl" transform="translate(687.6,544.6) rotate(90) scale(0.942,1)">Rolling 4 weeks ending 10-...</text>
<text class="xl" transform="translate(762.7,544.6) rotate(90) scale(0.942,1)">Rolling 4 weeks ending 11-...</text>
<text class="xl" transform="translate(837.8,544.6) rotate(90) scale(0.942,1)">Rolling 4 weeks ending 11-...</text>
<text class="xl" transform="translate(912.8,544.6) rotate(90) scale(0.942,1)">Rolling 4 weeks ending 12-...</text>
<text class="xl" transform="translate(987.9,544.6) rotate(90) scale(0.942,1)">Rolling 4 weeks ending 01-...</text>
<text class="xl" transform="translate(1062.9,544.6) rotate(90) scale(0.942,1)">Rolling 4 weeks ending 02-...</text>
<text class="xl" transform="translate(1138.0,544.6) rotate(90) scale(0.942,1)">Rolling 4 weeks ending 03-...</text>
<text class="xl" transform="translate(1213.1,544.6) rotate(90) scale(0.942,1)">Rolling 4 weeks ending 04-...</text>
<text x="652.5" y="669" text-anchor="middle" class="xt">Time</text>
</svg>

<!-- tooltip -->
<div class="tip"><div class="h">Distribution-Single Retail...</div>
<div class="c"><b>Distribution-<br>Single Retailer Trend-Rick</b><br>Monitor your brand<br>(s) at a single retailer</div></div>
</body></html>
